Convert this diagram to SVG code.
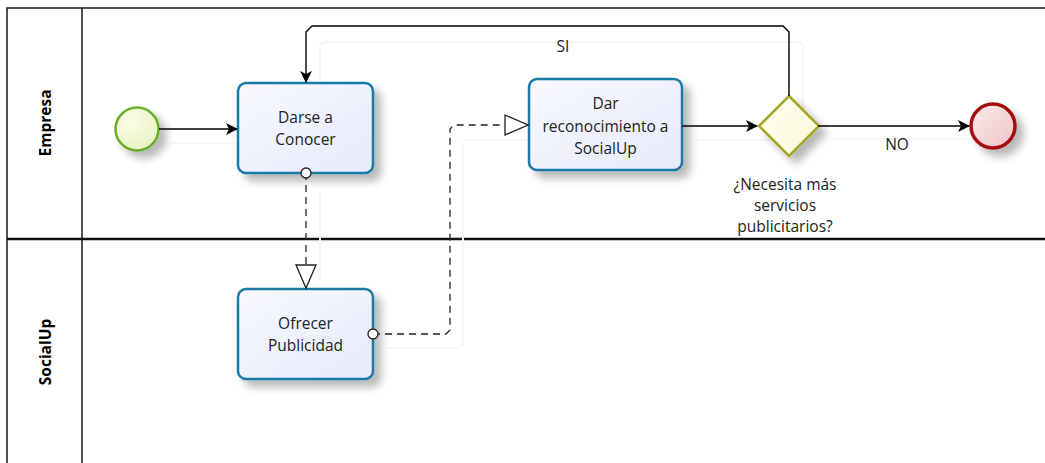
<svg xmlns="http://www.w3.org/2000/svg" width="1045" height="463" viewBox="0 0 1045 463">
  <defs>
    <linearGradient id="taskFill" x1="0" y1="0" x2="1" y2="1">
      <stop offset="0" stop-color="#f8f9fe"/>
      <stop offset="1" stop-color="#e6eafb"/>
    </linearGradient>
    <radialGradient id="startFill" cx="0.35" cy="0.3" r="0.8">
      <stop offset="0" stop-color="#fbfde8"/>
      <stop offset="1" stop-color="#e6f3bf"/>
    </radialGradient>
    <linearGradient id="endFill" x1="0" y1="0" x2="1" y2="1">
      <stop offset="0" stop-color="#fbeaea"/>
      <stop offset="1" stop-color="#efc4c8"/>
    </linearGradient>
    <linearGradient id="gwFill" x1="0" y1="0" x2="1" y2="1">
      <stop offset="0" stop-color="#fefef2"/>
      <stop offset="1" stop-color="#f9f9d6"/>
    </linearGradient>
    <filter id="shadow" x="-30%" y="-30%" width="170%" height="170%">
      <feGaussianBlur in="SourceAlpha" stdDeviation="4"/>
      <feOffset dx="7" dy="7" result="b"/>
      <feComponentTransfer><feFuncA type="linear" slope="0.28"/></feComponentTransfer>
      <feMerge><feMergeNode/><feMergeNode in="SourceGraphic"/></feMerge>
    </filter>
    <marker id="seqArrow" viewBox="0 0 12 12" refX="11" refY="6" markerWidth="12" markerHeight="12" markerUnits="userSpaceOnUse" orient="auto">
      <path d="M0,0 L12,6 L0,12 L3,6 Z" fill="#000"/>
    </marker>
    <marker id="msgArrow" viewBox="0 0 26 22" refX="24" refY="11" markerWidth="26" markerHeight="22" markerUnits="userSpaceOnUse" orient="auto">
      <path d="M1,1 L24,11 L1,21 Z" fill="#fff" stroke="#222" stroke-width="1.3"/>
    </marker>
    <marker id="msgStart" viewBox="0 0 12 12" refX="6" refY="6" markerWidth="12" markerHeight="12" markerUnits="userSpaceOnUse" orient="auto">
      <circle cx="6" cy="6" r="5" fill="#fff" stroke="#222" stroke-width="1.3"/>
    </marker>
  </defs>
  <style>
    .pool { fill: none; stroke: #1a1a1a; stroke-width: 1.5; }
    .lane { stroke: #111; stroke-width: 2.5; }
    .lane-label { font-family: "Open Sans", "Liberation Sans", sans-serif; font-size: 15.5px; font-weight: bold; fill: #000; text-anchor: middle; }
    .task { fill: url(#taskFill); stroke: #1d78a4; stroke-width: 2.5; }
    .label { font-family: "Open Sans", "Noto Sans", "Liberation Sans", sans-serif; font-size: 15.5px; fill: #222; text-anchor: middle; }
    .seq { fill: none; stroke: #000; stroke-width: 1.4; }
    .msg { fill: none; stroke: #222; stroke-width: 1.3; stroke-dasharray: 7 5; }
    .ghost { fill: none; stroke: #f6f6f6; stroke-width: 2; stroke-linejoin: round; }
  </style>

  <rect width="1045" height="463" fill="#fff"/>

  <!-- pool frame and lanes -->
  <g id="pool">
    <path class="pool" d="M7,470 V8 H1050"/>
    <line x1="82" y1="8" x2="82" y2="470" stroke="#1a1a1a" stroke-width="1.5"/>
    <line class="lane" x1="7" y1="239" x2="1050" y2="239"/>
    <text class="lane-label" transform="translate(51,123) rotate(-90)">Empresa</text>
    <text class="lane-label" transform="translate(51,352) rotate(-90)">SocialUp</text>
  </g>

  <!-- soft connector shadows -->
  <g id="connector-shadows">
    <path class="ghost" d="M170,143 H240"/>
    <path class="ghost" d="M320,90 V48 Q320,42 326,42 H797 Q803,42 803,48 V110"/>
    <path class="ghost" d="M320,188 V280"/>
    <path class="ghost" d="M387,348 H457 Q463,348 463,342 V146 Q463,140 469,140 H540"/>
    <path class="ghost" d="M696,140 H770"/>
    <path class="ghost" d="M832,139 H980"/>
  </g>

  <g id="start-event">
    <circle cx="137" cy="129" r="21.5" fill="url(#startFill)" stroke="#6aae2c" stroke-width="2.5" filter="url(#shadow)"/>
  </g>

  <g id="task-darse-a-conocer">
    <rect class="task" x="238" y="83" width="135" height="90" rx="8" filter="url(#shadow)"/>
    <text class="label" x="305.5" y="123">Darse a</text>
    <text class="label" x="305.5" y="145">Conocer</text>
  </g>

  <g id="task-dar-reconocimiento">
    <rect class="task" x="529" y="79" width="153" height="91" rx="8" filter="url(#shadow)"/>
    <text class="label" x="605.5" y="109">Dar</text>
    <text class="label" x="605.5" y="132">reconocimiento a</text>
    <text class="label" x="605.5" y="154">SocialUp</text>
  </g>

  <g id="task-ofrecer-publicidad">
    <rect class="task" x="238" y="289" width="135" height="90" rx="8" filter="url(#shadow)"/>
    <text class="label" x="305.5" y="329">Ofrecer</text>
    <text class="label" x="305.5" y="351">Publicidad</text>
  </g>

  <g id="gateway">
    <path d="M789,96 L819,126 L789,156 L759,126 Z" fill="url(#gwFill)" stroke="#a5a52a" stroke-width="2.5" filter="url(#shadow)"/>
    <text class="label" x="785" y="190">¿Necesita más</text>
    <text class="label" x="785" y="211">servicios</text>
    <text class="label" x="785" y="232">publicitarios?</text>
  </g>

  <g id="end-event">
    <circle cx="993" cy="126" r="22" fill="url(#endFill)" stroke="#a50d10" stroke-width="3.5" filter="url(#shadow)"/>
  </g>

  <!-- connectors -->
  <g id="connectors">
    <path class="seq" d="M159,129 H237" marker-end="url(#seqArrow)"/>
    <path class="seq" d="M682,126 H757" marker-end="url(#seqArrow)"/>
    <path class="seq" d="M818,126 H969" marker-end="url(#seqArrow)"/>
    <path class="seq" d="M789,96 V32 L783,26 H312 L306,32 V82" marker-end="url(#seqArrow)"/>
    <path class="msg" d="M306,173 V288" marker-start="url(#msgStart)" marker-end="url(#msgArrow)"/>
    <path class="msg" d="M373,334 H446 L450,330 V129 L454,125 H528" marker-start="url(#msgStart)" marker-end="url(#msgArrow)"/>
    <text class="label" x="563" y="52">SI</text>
    <text class="label" x="897" y="150">NO</text>
  </g>
</svg>
